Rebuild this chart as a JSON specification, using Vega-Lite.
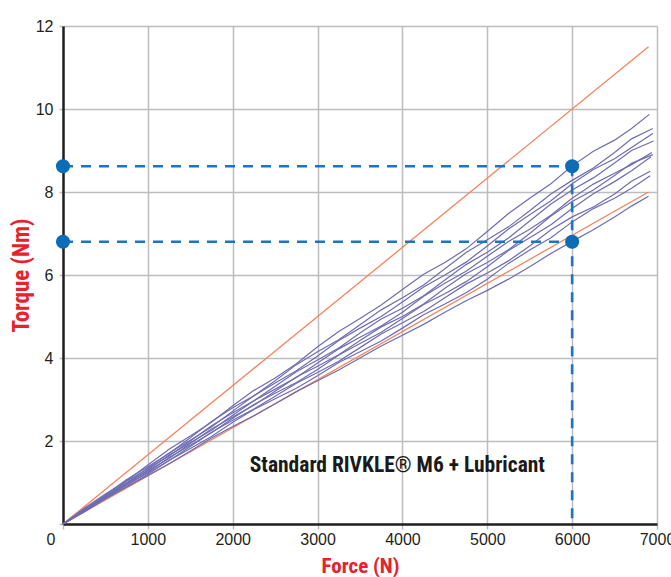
{
  "$schema": "https://vega.github.io/schema/vega-lite/v6.json",
  "width": 594,
  "height": 498,
  "autosize": "none",
  "padding": {"left": 63, "top": 26, "right": 14, "bottom": 53},
  "background": "white",
  "config": {"view": {"stroke": null}},
  "datasets": {
    "curves": [
      {"series":"A","force":0,"torque":0},{"series":"A","force":250,"torque":0.38},{"series":"A","force":500,"torque":0.72},{"series":"A","force":750,"torque":1.04},{"series":"A","force":1000,"torque":1.42},{"series":"A","force":1250,"torque":1.8},{"series":"A","force":1500,"torque":2.12},{"series":"A","force":1750,"torque":2.45},{"series":"A","force":2000,"torque":2.85},{"series":"A","force":2250,"torque":3.22},{"series":"A","force":2500,"torque":3.52},{"series":"A","force":2750,"torque":3.86},{"series":"A","force":3000,"torque":4.27},{"series":"A","force":3250,"torque":4.64},{"series":"A","force":3500,"torque":4.95},{"series":"A","force":3750,"torque":5.28},{"series":"A","force":4000,"torque":5.65},{"series":"A","force":4250,"torque":6.02},{"series":"A","force":4500,"torque":6.3},{"series":"A","force":4750,"torque":6.63},{"series":"A","force":5000,"torque":7.05},{"series":"A","force":5250,"torque":7.48},{"series":"A","force":5500,"torque":7.85},{"series":"A","force":5750,"torque":8.2},{"series":"A","force":6000,"torque":8.63},{"series":"A","force":6250,"torque":8.98},{"series":"A","force":6500,"torque":9.25},{"series":"A","force":6700,"torque":9.53},{"series":"A","force":6910,"torque":9.87},
      {"series":"B","force":0,"torque":0},{"series":"B","force":250,"torque":0.33},{"series":"B","force":500,"torque":0.7},{"series":"B","force":750,"torque":1.07},{"series":"B","force":1000,"torque":1.38},{"series":"B","force":1250,"torque":1.7},{"series":"B","force":1500,"torque":2.08},{"series":"B","force":1750,"torque":2.47},{"series":"B","force":2000,"torque":2.8},{"series":"B","force":2250,"torque":3.09},{"series":"B","force":2500,"torque":3.45},{"series":"B","force":2750,"torque":3.84},{"series":"B","force":3000,"torque":4.15},{"series":"B","force":3250,"torque":4.44},{"series":"B","force":3500,"torque":4.8},{"series":"B","force":3750,"torque":5.16},{"series":"B","force":4000,"torque":5.45},{"series":"B","force":4250,"torque":5.76},{"series":"B","force":4500,"torque":6.15},{"series":"B","force":4750,"torque":6.54},{"series":"B","force":5000,"torque":6.85},{"series":"B","force":5250,"torque":7.16},{"series":"B","force":5500,"torque":7.55},{"series":"B","force":5750,"torque":7.95},{"series":"B","force":6000,"torque":8.28},{"series":"B","force":6250,"torque":8.58},{"series":"B","force":6500,"torque":8.95},{"series":"B","force":6700,"torque":9.28},{"series":"B","force":6950,"torque":9.53},
      {"series":"C","force":0,"torque":0},{"series":"C","force":250,"torque":0.36},{"series":"C","force":500,"torque":0.68},{"series":"C","force":750,"torque":0.99},{"series":"C","force":1000,"torque":1.35},{"series":"C","force":1250,"torque":1.71},{"series":"C","force":1500,"torque":2.02},{"series":"C","force":1750,"torque":2.34},{"series":"C","force":2000,"torque":2.72},{"series":"C","force":2250,"torque":3.09},{"series":"C","force":2500,"torque":3.4},{"series":"C","force":2750,"torque":3.69},{"series":"C","force":3000,"torque":4.05},{"series":"C","force":3250,"torque":4.42},{"series":"C","force":3500,"torque":4.72},{"series":"C","force":3750,"torque":5.0},{"series":"C","force":4000,"torque":5.35},{"series":"C","force":4250,"torque":5.71},{"series":"C","force":4500,"torque":6.0},{"series":"C","force":4750,"torque":6.31},{"series":"C","force":5000,"torque":6.7},{"series":"C","force":5250,"torque":7.11},{"series":"C","force":5500,"torque":7.45},{"series":"C","force":5750,"torque":7.79},{"series":"C","force":6000,"torque":8.2},{"series":"C","force":6250,"torque":8.54},{"series":"C","force":6500,"torque":8.8},{"series":"C","force":6700,"torque":9.07},{"series":"C","force":6950,"torque":9.41},
      {"series":"D","force":0,"torque":0},{"series":"D","force":250,"torque":0.32},{"series":"D","force":500,"torque":0.67},{"series":"D","force":750,"torque":1.03},{"series":"D","force":1000,"torque":1.33},{"series":"D","force":1250,"torque":1.64},{"series":"D","force":1500,"torque":2.0},{"series":"D","force":1750,"torque":2.37},{"series":"D","force":2000,"torque":2.68},{"series":"D","force":2250,"torque":2.97},{"series":"D","force":2500,"torque":3.32},{"series":"D","force":2750,"torque":3.67},{"series":"D","force":3000,"torque":3.95},{"series":"D","force":3250,"torque":4.24},{"series":"D","force":3500,"torque":4.6},{"series":"D","force":3750,"torque":4.94},{"series":"D","force":4000,"torque":5.2},{"series":"D","force":4250,"torque":5.5},{"series":"D","force":4500,"torque":5.88},{"series":"D","force":4750,"torque":6.25},{"series":"D","force":5000,"torque":6.55},{"series":"D","force":5250,"torque":6.89},{"series":"D","force":5500,"torque":7.3},{"series":"D","force":5750,"torque":7.71},{"series":"D","force":6000,"torque":8.05},{"series":"D","force":6250,"torque":8.34},{"series":"D","force":6500,"torque":8.7},{"series":"D","force":6700,"torque":9.0},{"series":"D","force":6960,"torque":9.23},
      {"series":"E","force":0,"torque":0},{"series":"E","force":250,"torque":0.35},{"series":"E","force":500,"torque":0.66},{"series":"E","force":750,"torque":0.96},{"series":"E","force":1000,"torque":1.3},{"series":"E","force":1250,"torque":1.66},{"series":"E","force":1500,"torque":1.96},{"series":"E","force":1750,"torque":2.26},{"series":"E","force":2000,"torque":2.62},{"series":"E","force":2250,"torque":2.97},{"series":"E","force":2500,"torque":3.25},{"series":"E","force":2750,"torque":3.53},{"series":"E","force":3000,"torque":3.88},{"series":"E","force":3250,"torque":4.22},{"series":"E","force":3500,"torque":4.5},{"series":"E","force":3750,"torque":4.77},{"series":"E","force":4000,"torque":5.1},{"series":"E","force":4250,"torque":5.49},{"series":"E","force":4500,"torque":5.8},{"series":"E","force":4750,"torque":6.09},{"series":"E","force":5000,"torque":6.45},{"series":"E","force":5250,"torque":6.81},{"series":"E","force":5500,"torque":7.1},{"series":"E","force":5750,"torque":7.44},{"series":"E","force":6000,"torque":7.85},{"series":"E","force":6250,"torque":8.19},{"series":"E","force":6500,"torque":8.45},{"series":"E","force":6700,"torque":8.66},{"series":"E","force":6940,"torque":8.95},
      {"series":"F","force":0,"torque":0},{"series":"F","force":250,"torque":0.31},{"series":"F","force":500,"torque":0.65},{"series":"F","force":750,"torque":0.99},{"series":"F","force":1000,"torque":1.28},{"series":"F","force":1250,"torque":1.58},{"series":"F","force":1500,"torque":1.94},{"series":"F","force":1750,"torque":2.29},{"series":"F","force":2000,"torque":2.58},{"series":"F","force":2250,"torque":2.86},{"series":"F","force":2500,"torque":3.2},{"series":"F","force":2750,"torque":3.54},{"series":"F","force":3000,"torque":3.8},{"series":"F","force":3250,"torque":4.08},{"series":"F","force":3500,"torque":4.42},{"series":"F","force":3750,"torque":4.75},{"series":"F","force":4000,"torque":5.0},{"series":"F","force":4250,"torque":5.3},{"series":"F","force":4500,"torque":5.68},{"series":"F","force":4750,"torque":6.03},{"series":"F","force":5000,"torque":6.3},{"series":"F","force":5250,"torque":6.61},{"series":"F","force":5500,"torque":7.0},{"series":"F","force":5750,"torque":7.42},{"series":"F","force":6000,"torque":7.77},{"series":"F","force":6250,"torque":8.05},{"series":"F","force":6500,"torque":8.4},{"series":"F","force":6700,"torque":8.69},{"series":"F","force":6950,"torque":8.9},
      {"series":"G","force":0,"torque":0},{"series":"G","force":250,"torque":0.34},{"series":"G","force":500,"torque":0.64},{"series":"G","force":750,"torque":0.93},{"series":"G","force":1000,"torque":1.25},{"series":"G","force":1250,"torque":1.6},{"series":"G","force":1500,"torque":1.9},{"series":"G","force":1750,"torque":2.2},{"series":"G","force":2000,"torque":2.55},{"series":"G","force":2250,"torque":2.88},{"series":"G","force":2500,"torque":3.15},{"series":"G","force":2750,"torque":3.41},{"series":"G","force":3000,"torque":3.72},{"series":"G","force":3250,"torque":4.07},{"series":"G","force":3500,"torque":4.35},{"series":"G","force":3750,"torque":4.62},{"series":"G","force":4000,"torque":4.95},{"series":"G","force":4250,"torque":5.29},{"series":"G","force":4500,"torque":5.55},{"series":"G","force":4750,"torque":5.84},{"series":"G","force":5000,"torque":6.2},{"series":"G","force":5250,"torque":6.59},{"series":"G","force":5500,"torque":6.9},{"series":"G","force":5750,"torque":7.21},{"series":"G","force":6000,"torque":7.6},{"series":"G","force":6250,"torque":7.96},{"series":"G","force":6500,"torque":8.25},{"series":"G","force":6700,"torque":8.51},{"series":"G","force":6930,"torque":8.85},
      {"series":"H","force":0,"torque":0},{"series":"H","force":250,"torque":0.3},{"series":"H","force":500,"torque":0.63},{"series":"H","force":750,"torque":0.95},{"series":"H","force":1000,"torque":1.23},{"series":"H","force":1250,"torque":1.53},{"series":"H","force":1500,"torque":1.87},{"series":"H","force":1750,"torque":2.21},{"series":"H","force":2000,"torque":2.5},{"series":"H","force":2250,"torque":2.77},{"series":"H","force":2500,"torque":3.08},{"series":"H","force":2750,"torque":3.39},{"series":"H","force":3000,"torque":3.65},{"series":"H","force":3250,"torque":3.92},{"series":"H","force":3500,"torque":4.25},{"series":"H","force":3750,"torque":4.58},{"series":"H","force":4000,"torque":4.85},{"series":"H","force":4250,"torque":5.12},{"series":"H","force":4500,"torque":5.45},{"series":"H","force":4750,"torque":5.78},{"series":"H","force":5000,"torque":6.05},{"series":"H","force":5250,"torque":6.34},{"series":"H","force":5500,"torque":6.7},{"series":"H","force":5750,"torque":7.09},{"series":"H","force":6000,"torque":7.4},{"series":"H","force":6250,"torque":7.64},{"series":"H","force":6500,"torque":7.95},{"series":"H","force":6700,"torque":8.26},{"series":"H","force":6920,"torque":8.5},
      {"series":"I","force":0,"torque":0},{"series":"I","force":250,"torque":0.32},{"series":"I","force":500,"torque":0.62},{"series":"I","force":750,"torque":0.89},{"series":"I","force":1000,"torque":1.2},{"series":"I","force":1250,"torque":1.53},{"series":"I","force":1500,"torque":1.82},{"series":"I","force":1750,"torque":2.11},{"series":"I","force":2000,"torque":2.45},{"series":"I","force":2250,"torque":2.76},{"series":"I","force":2500,"torque":3.02},{"series":"I","force":2750,"torque":3.27},{"series":"I","force":3000,"torque":3.57},{"series":"I","force":3250,"torque":3.89},{"series":"I","force":3500,"torque":4.15},{"series":"I","force":3750,"torque":4.41},{"series":"I","force":4000,"torque":4.72},{"series":"I","force":4250,"torque":5.04},{"series":"I","force":4500,"torque":5.3},{"series":"I","force":4750,"torque":5.57},{"series":"I","force":5000,"torque":5.9},{"series":"I","force":5250,"torque":6.28},{"series":"I","force":5500,"torque":6.6},{"series":"I","force":5750,"torque":6.9},{"series":"I","force":6000,"torque":7.28},{"series":"I","force":6250,"torque":7.6},{"series":"I","force":6500,"torque":7.85},{"series":"I","force":6700,"torque":8.09},{"series":"I","force":6920,"torque":8.39},
      {"series":"J","force":0,"torque":0},{"series":"J","force":250,"torque":0.29},{"series":"J","force":500,"torque":0.6},{"series":"J","force":750,"torque":0.9},{"series":"J","force":1000,"torque":1.17},{"series":"J","force":1250,"torque":1.45},{"series":"J","force":1500,"torque":1.76},{"series":"J","force":1750,"torque":2.07},{"series":"J","force":2000,"torque":2.35},{"series":"J","force":2250,"torque":2.61},{"series":"J","force":2500,"torque":2.9},{"series":"J","force":2750,"torque":3.19},{"series":"J","force":3000,"torque":3.45},{"series":"J","force":3250,"torque":3.71},{"series":"J","force":3500,"torque":4.0},{"series":"J","force":3750,"torque":4.29},{"series":"J","force":4000,"torque":4.55},{"series":"J","force":4250,"torque":4.81},{"series":"J","force":4500,"torque":5.1},{"series":"J","force":4750,"torque":5.38},{"series":"J","force":5000,"torque":5.63},{"series":"J","force":5250,"torque":5.9},{"series":"J","force":5500,"torque":6.2},{"series":"J","force":5750,"torque":6.52},{"series":"J","force":6000,"torque":6.81},{"series":"J","force":6250,"torque":7.09},{"series":"J","force":6500,"torque":7.4},{"series":"J","force":6700,"torque":7.66},{"series":"J","force":6900,"torque":7.9}
    ],
    "refs": [
      {"line": "upper", "force": 0, "torque": 0}, {"line": "upper", "force": 6900, "torque": 11.5},
      {"line": "lower", "force": 0, "torque": 0}, {"line": "lower", "force": 6900, "torque": 8.0}
    ],
    "guides": [
      {"guide": "h1", "force": 0, "torque": 8.62}, {"guide": "h1", "force": 6000, "torque": 8.62},
      {"guide": "h2", "force": 0, "torque": 6.8}, {"guide": "h2", "force": 6000, "torque": 6.8},
      {"guide": "v", "force": 6000, "torque": 8.62}, {"guide": "v", "force": 6000, "torque": 0}
    ],
    "dots": [
      {"force": 0, "torque": 8.62}, {"force": 6000, "torque": 8.62},
      {"force": 0, "torque": 6.8}, {"force": 6000, "torque": 6.8}
    ],
    "label": [
      {"force": 2200, "torque": 1.39, "text": "Standard RIVKLE® M6 + Lubricant"}
    ]
  },
  "encoding": {
    "x": {
      "field": "force", "type": "quantitative",
      "scale": {"domain": [0, 7000], "nice": false},
      "axis": {
        "values": [0, 1000, 2000, 3000, 4000, 5000, 6000, 7000],
        "format": "d",
        "title": "Force (N)",
        "titleColor": "#e8212b",
        "titleFont": "Roboto Condensed, Roboto, sans-serif",
        "titleFontWeight": "bold",
        "titleFontSize": 21,
        "titlePadding": 8,
        "labelFont": "Liberation Sans",
        "labelFontSize": 16,
        "labelColor": "#231f20",
        "labelPadding": 2,
        "labelAlign": {"condition": {"test": "datum.value == 0", "value": "right"}, "value": "center"},
        "labelOffset": {"condition": {"test": "datum.value == 0", "value": -8}, "value": 0},
        "labelFlush": false,
        "labelOverlap": false,
        "domainColor": "#231f20",
        "domainWidth": 2.5,
        "grid": true,
        "gridColor": "#bcbdc0",
        "gridWidth": 1.5,
        "tickColor": "#bcbdc0",
        "tickSize": 5,
        "tickWidth": 1.5
      }
    },
    "y": {
      "field": "torque", "type": "quantitative",
      "scale": {"domain": [0, 12], "nice": false},
      "axis": {
        "values": [0, 2, 4, 6, 8, 10, 12],
        "labelExpr": "datum.value == 0 ? '' : datum.label",
        "title": "Torque (Nm)",
        "titleColor": "#e8212b",
        "titleFont": "Roboto Condensed, Roboto, sans-serif",
        "titleFontWeight": "bold",
        "titleFontSize": 23,
        "titlePadding": 2,
        "labelFont": "Liberation Sans",
        "labelFontSize": 16,
        "labelColor": "#231f20",
        "labelPadding": 6,
        "labelOverlap": false,
        "domainColor": "#231f20",
        "domainWidth": 2.5,
        "grid": true,
        "gridColor": "#bcbdc0",
        "gridWidth": 1.5,
        "tickColor": "#bcbdc0",
        "tickSize": 4,
        "tickWidth": 1.5
      }
    }
  },
  "layer": [
    {
      "data": {"name": "refs"},
      "mark": {"type": "line", "color": "#f4845f", "strokeWidth": 1.3},
      "encoding": {"detail": {"field": "line"}}
    },
    {
      "data": {"name": "curves"},
      "mark": {"type": "line", "color": "#6e6cb2", "strokeWidth": 1.2},
      "encoding": {"detail": {"field": "series"}}
    },
    {
      "data": {"name": "guides"},
      "mark": {"type": "line", "color": "#1b75c2", "strokeWidth": 2.6, "strokeDash": [10, 8]},
      "encoding": {"detail": {"field": "guide"}}
    },
    {
      "data": {"name": "dots"},
      "mark": {"type": "circle", "color": "#0b6db7", "opacity": 1, "size": 200}
    },
    {
      "data": {"name": "label"},
      "mark": {"type": "text", "align": "left", "baseline": "middle", "font": "Roboto Condensed, Roboto, sans-serif", "fontWeight": "bold", "fontSize": 21.5, "color": "#1a1a1a"},
      "encoding": {"text": {"field": "text"}}
    }
  ]
}
